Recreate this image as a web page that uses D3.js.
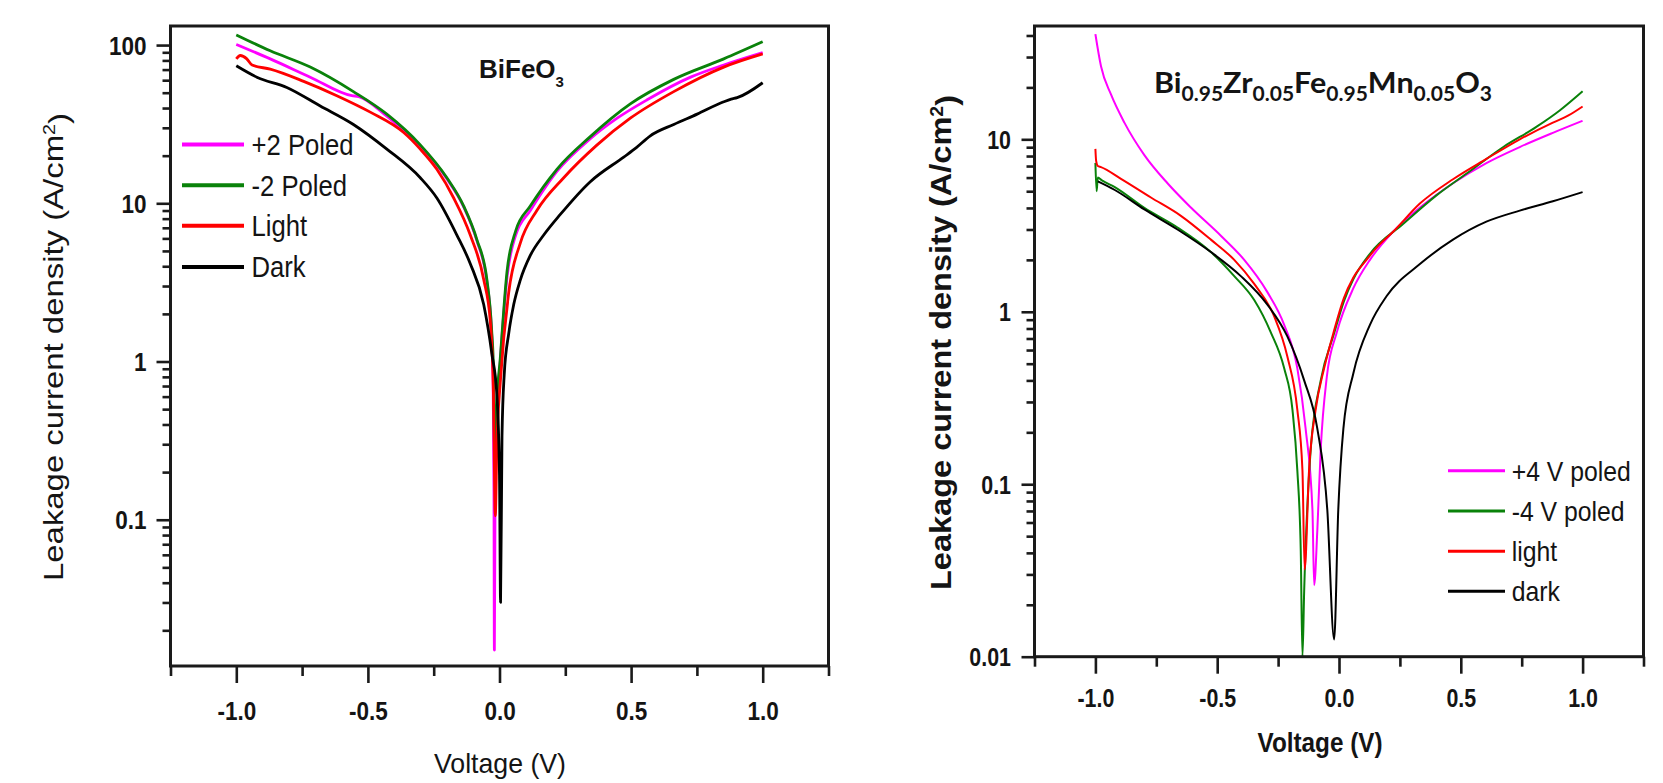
<!DOCTYPE html>
<html><head><meta charset="utf-8">
<script src="https://cdn.jsdelivr.net/npm/d3@7"></script>
<style>body{margin:0;background:#fff}svg{display:block}</style>
</head><body>
<svg id="c" width="1663" height="783"></svg>
<script>
// ---------- DATA ----------
const voltageTicks = [-1.0, -0.5, 0.0, 0.5, 1.0];
const voltageMinorTicks = [-1.25, -0.75, -0.25, 0.25, 0.75, 1.25];
const bfoYTicks = [100, 10, 1, 0.1];
const bzfmYTicks = [10, 1, 0.1, 0.01];
const bfoLegend = ["+2 Poled", "-2 Poled", "Light", "Dark"];
const bzfmLegend = ["+4 V poled", "-4 V poled", "light", "dark"];
const seriesColors = ["#ff00ff", "#0a820a", "#ff0000", "#000000"];

// BiFeO3 : [voltage (V), J (A/cm2)]
const bfoPlus2 = [[-1.0,101],[-0.871,81.8],[-0.719,62.7],[-0.561,47.9],[-0.535,47.3],[-0.428,35.5],[-0.364,28.8],[-0.301,23],[-0.2,14.3],[-0.136,9.5],[-0.086,5.8],[-0.048,3.2],[-0.03,1.5],[-0.024,0.7],[-0.021,0.15],[-0.0195,0.015],[-0.017,0.12],[-0.01,0.45],[0.003,1.0],[0.0285,3.4],[0.0616,6.3],[0.117,9.0],[0.218,15.9],[0.345,25.6],[0.447,34.5],[0.561,45.1],[0.726,62.7],[0.852,74.8],[1.0,89.6]];
const bfoMinus2 = [[-1.0,116],[-0.871,92],[-0.719,72.6],[-0.555,50.8],[-0.428,36.6],[-0.301,23.4],[-0.2,14.5],[-0.136,9.6],[-0.086,5.9],[-0.048,3.3],[-0.03,1.6],[-0.023,0.9],[-0.017,0.2],[-0.011,0.5],[0.003,1.05],[0.0285,3.7],[0.0616,6.7],[0.117,9.6],[0.218,16.4],[0.345,26.4],[0.497,42.5],[0.662,60.7],[0.852,81.8],[1.0,105]];
const bfoLight = [[-1.0,81.8],[-0.985,85.9],[-0.96,81.8],[-0.94,74.8],[-0.871,70.5],[-0.744,59],[-0.618,47.9],[-0.491,37.7],[-0.364,28],[-0.301,22],[-0.238,16.4],[-0.174,10.8],[-0.111,6.3],[-0.06,3.3],[-0.035,1.8],[-0.023,0.62],[-0.016,0.106],[-0.01,0.3],[0.003,0.74],[0.035,2.73],[0.079,5.6],[0.142,9.0],[0.244,14.5],[0.371,23.4],[0.497,34.5],[0.662,50.8],[0.852,72.6],[1.0,87.9]];
const bfoDark = [[-1.0,74],[-0.922,62.7],[-0.808,54],[-0.681,41.2],[-0.555,31.5],[-0.428,22],[-0.301,14.5],[-0.238,10.8],[-0.162,6.3],[-0.111,4.15],[-0.06,2.29],[-0.029,1.12],[-0.01,0.62],[0.0,0.19],[0.004,0.03],[0.0095,0.34],[0.018,0.83],[0.035,1.5],[0.054,2.29],[0.079,3.27],[0.117,4.68],[0.168,6.3],[0.231,8.5],[0.345,13.7],[0.472,19.6],[0.52,22.5],[0.573,26.7],[0.662,31.5],[0.751,36.6],[0.852,43.8],[0.88,45.5],[0.903,46.5],[1.0,57.8]];

// Bi0.95Zr0.05Fe0.95Mn0.05O3
const bzfmPlus4 = [[-1.0,40.7],[-0.977,26.5],[-0.936,18.2],[-0.881,12.5],[-0.799,8.1],[-0.704,5.56],[-0.608,4.02],[-0.485,2.76],[-0.389,2.0],[-0.294,1.3],[-0.225,0.84],[-0.171,0.47],[-0.137,0.21],[-0.109,0.071],[-0.102,0.026],[-0.089,0.054],[-0.075,0.16],[-0.05,0.42],[-0.009,0.76],[0.059,1.37],[0.127,2.0],[0.223,2.92],[0.332,4.02],[0.468,5.56],[0.605,7.28],[0.742,9.02],[0.878,10.9],[1.0,12.8]];
const bzfmMinus4 = [[-1.0,7.3],[-0.995,5.0],[-0.99,6.0],[-0.975,5.8],[-0.922,5.3],[-0.799,4.0],[-0.663,3.08],[-0.526,2.22],[-0.43,1.61],[-0.348,1.17],[-0.28,0.76],[-0.225,0.47],[-0.191,0.27],[-0.171,0.12],[-0.157,0.041],[-0.15,0.0098],[-0.143,0.024],[-0.116,0.16],[-0.075,0.4],[-0.02,0.75],[0.02,1.15],[0.059,1.55],[0.127,2.17],[0.264,3.24],[0.4,4.73],[0.537,6.53],[0.673,9.0],[0.81,11.8],[0.906,14.7],[1.0,19.0]];
const bzfmLight = [[-1.0,8.8],[-0.997,7.5],[-0.99,7.0],[-0.977,6.9],[-0.895,5.9],[-0.772,4.6],[-0.649,3.6],[-0.526,2.62],[-0.43,2.0],[-0.348,1.45],[-0.266,0.94],[-0.212,0.55],[-0.171,0.27],[-0.15,0.12],[-0.141,0.032],[-0.123,0.12],[-0.096,0.27],[-0.061,0.47],[-0.02,0.78],[0.02,1.2],[0.059,1.58],[0.113,2.0],[0.161,2.41],[0.223,2.92],[0.332,4.24],[0.468,5.87],[0.605,7.7],[0.742,10.0],[0.878,12.5],[0.94,13.7],[1.0,15.5]];
const bzfmDark = [[-0.99,5.7],[-0.922,5.1],[-0.799,3.92],[-0.663,3.0],[-0.526,2.22],[-0.403,1.61],[-0.294,1.1],[-0.212,0.72],[-0.143,0.4],[-0.089,0.21],[-0.048,0.071],[-0.02,0.0126],[-0.003,0.071],[0.018,0.21],[0.059,0.44],[0.127,0.84],[0.195,1.23],[0.332,1.89],[0.468,2.62],[0.605,3.33],[0.742,3.86],[0.878,4.37],[1.0,4.94]];

// ---------- DRAWING ----------
const svg = d3.select("#c");
svg.append("rect").attr("width", 1663).attr("height", 783).attr("fill", "#fff");
const SANS = "'Liberation Sans', Arial, sans-serif";
const TEXT = "#141414";

function drawPanel(o) {
  const g = svg.append("g");
  const x = d3.scaleLinear([-1.25, 1.25], [o.x0, o.x1]);
  const y = d3.scaleLog([o.yMin, o.yMax], [o.y1, o.y0]);

  const clipId = "clip" + o.id;
  svg.append("clipPath").attr("id", clipId).append("rect")
    .attr("x", o.x0).attr("y", o.y0).attr("width", o.x1 - o.x0).attr("height", o.y1 - o.y0);

  const line = d3.line().x(d => x(d[0])).y(d => y(Math.max(d[1], o.yMin))).curve(d3.curveMonotoneX);
  const curves = g.append("g").attr("clip-path", `url(#${clipId})`);
  o.series.forEach((s, i) => {
    curves.append("path").attr("d", line(s)).attr("fill", "none")
      .attr("stroke", seriesColors[i]).attr("stroke-width", o.lw)
      .attr("stroke-linejoin", "round");
  });

  // frame
  g.append("rect").attr("x", o.x0).attr("y", o.y0)
    .attr("width", o.x1 - o.x0).attr("height", o.y1 - o.y0)
    .attr("fill", "none").attr("stroke", "#1a1a1a").attr("stroke-width", 3);

  // y axis
  const majors = o.yTicks;
  const minors = y.ticks().filter(v => !majors.some(m => Math.abs(m - v) / m < 1e-6));
  const yMin = g.append("g").attr("transform", `translate(${o.x0},0)`)
    .call(d3.axisLeft(y).tickValues(minors).tickSize(8).tickFormat(""));
  const yMaj = g.append("g").attr("transform", `translate(${o.x0},0)`)
    .call(d3.axisLeft(y).tickValues(majors).tickSize(o.majLen).tickFormat(d => String(d)));
  // x axis
  const xMin = g.append("g").attr("transform", `translate(0,${o.y1})`)
    .call(d3.axisBottom(x).tickValues(voltageMinorTicks).tickSize(10).tickFormat(""));
  const xMaj = g.append("g").attr("transform", `translate(0,${o.y1})`)
    .call(d3.axisBottom(x).tickValues(voltageTicks).tickSize(17).tickFormat(d => d.toFixed(1)));

  [yMin, yMaj, xMin, xMaj].forEach(a => {
    a.select(".domain").remove();
    a.selectAll(".tick line").attr("stroke", "#1a1a1a").attr("stroke-width", 2.6);
  });
  yMaj.selectAll(".tick text")
    .attr("x", 0).attr("dy", "0.36em").attr("text-anchor", "end")
    .attr("transform", `translate(${-o.yLabOff},0) scale(${o.tickSx},1)`)
    .style("font-family", SANS).style("font-weight", "bold").style("font-size", o.tickFs + "px").attr("fill", TEXT);
  xMaj.selectAll(".tick text")
    .attr("y", 0).attr("dy", null)
    .attr("transform", `translate(0,${o.xLabOff}) scale(${o.tickSx},1)`)
    .style("font-family", SANS).style("font-weight", "bold").style("font-size", o.tickFs + "px").attr("fill", TEXT);

  // legend
  o.legend.forEach((name, i) => {
    const ly = o.legY[i];
    g.append("line").attr("x1", o.legX0).attr("x2", o.legX1).attr("y1", ly).attr("y2", ly)
      .attr("stroke", seriesColors[i]).attr("stroke-width", o.legLw);
    g.append("text").attr("transform", `translate(${o.legTx},${ly}) scale(${o.legSx},1)`)
      .attr("dy", "0.36em")
      .style("font-family", SANS).style("font-size", o.legFs + "px").attr("fill", TEXT).text(name);
  });

  // axis titles
  g.append("text").attr("x", o.xtX).attr("y", o.xtY).attr("text-anchor", "middle")
    .attr("textLength", o.xtLen).attr("lengthAdjust", "spacingAndGlyphs")
    .style("font-family", SANS).style("font-size", o.xtFs + "px").style("font-weight", o.titleWeight)
    .attr("fill", TEXT).text("Voltage (V)");
  const yt = g.append("text").attr("transform", `translate(${o.ytX},${o.ytY}) rotate(-90)`)
    .attr("text-anchor", "middle").attr("dy", "0.36em")
    .attr("textLength", o.ytLen).attr("lengthAdjust", "spacingAndGlyphs")
    .style("font-family", SANS).style("font-size", o.ytFs + "px").style("font-weight", o.titleWeight)
    .attr("fill", TEXT);
  yt.append("tspan").text("Leakage current density (A/cm");
  yt.append("tspan").attr("dy", "-0.45em").style("font-size", (o.ytFs * 0.6) + "px").text("2");
  yt.append("tspan").attr("dy", "0.45em").text(")");
  return {x, y, g};
}

// Left panel: BiFeO3
const left = drawPanel({
  id: "L", x0: 170.5, x1: 828.5, y0: 26, y1: 666, yMin: 0.0119, yMax: 132,
  series: [bfoPlus2, bfoMinus2, bfoLight, bfoDark], lw: 2.8,
  yTicks: bfoYTicks, majLen: 14, yLabOff: 24, xLabOff: 53.5, tickFs: 25, tickSx: 0.9,
  legend: bfoLegend, legY: [144.5, 185.2, 225.8, 267], legX0: 182, legX1: 244, legTx: 251.5, legLw: 4, legFs: 29, legSx: 0.885,
  xtX: 500, xtY: 773, xtLen: 132, xtFs: 28, ytX: 52.5, ytY: 347, ytLen: 468, ytFs: 28, titleWeight: "normal"
});
const lt = left.g.append("text").attr("x", 479).attr("y", 78)
  .style("font-family", SANS).style("font-weight", "bold").style("font-size", "26px").attr("fill", TEXT);
lt.append("tspan").text("BiFeO");
lt.append("tspan").attr("dy", 9).style("font-size", "15px").text("3");

// Right panel: Bi0.95Zr0.05Fe0.95Mn0.05O3
const right = drawPanel({
  id: "R", x0: 1034.5, x1: 1643.5, y0: 26, y1: 656.7, yMin: 0.01, yMax: 45.4,
  series: [bzfmPlus4, bzfmMinus4, bzfmLight, bzfmDark], lw: 2,
  yTicks: bzfmYTicks, majLen: 13, yLabOff: 23.5, xLabOff: 50, tickFs: 25.5, tickSx: 0.84,
  legend: bzfmLegend, legY: [470.7, 511, 551.2, 591.3], legX0: 1448, legX1: 1505, legTx: 1511.7, legLw: 3, legFs: 28, legSx: 0.885,
  xtX: 1320, xtY: 752, xtLen: 125, xtFs: 28, ytX: 940.7, ytY: 342.5, ytLen: 495, ytFs: 29.5, titleWeight: "bold"
});
const titleParts = [["Bi", false], ["0.95", true], ["Zr", false], ["0.05", true], ["Fe", false], ["0.95", true], ["Mn", false], ["0.05", true], ["O", false], ["3", true]];
const rt = right.g.append("text").attr("x", 1154).attr("y", 93)
  .attr("textLength", 338).attr("lengthAdjust", "spacingAndGlyphs")
  .style("font-family", "Lato, 'Open Sans', sans-serif").style("font-weight", "bold").style("font-size", "29px").attr("fill", TEXT);
let isSub = false;
titleParts.forEach(([t, sub]) => {
  const ts = rt.append("tspan").text(t);
  if (sub) ts.style("font-size", "20px");
  if (sub !== isSub) ts.attr("dy", sub ? 8 : -8);
  isSub = sub;
});
</script>
</body></html>
